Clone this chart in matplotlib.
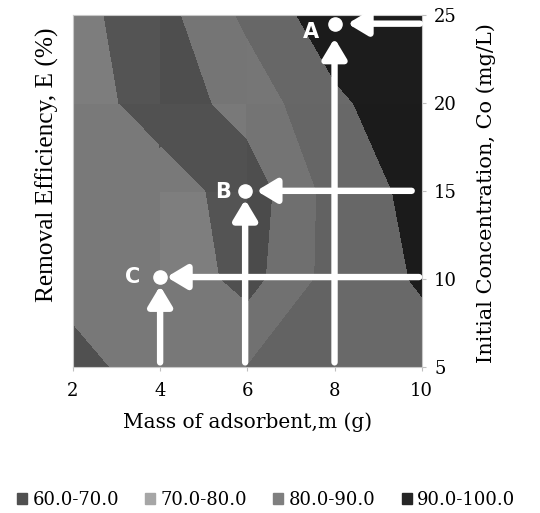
import numpy as np
import matplotlib
matplotlib.use("Agg")
import matplotlib.pyplot as plt
from matplotlib.patches import Patch

# grid of the surface (mass of adsorbent x initial concentration)
mass = [2, 4, 6, 8, 10]
conc = [5, 10, 15, 20, 25]
# removal efficiency E (%) at each node, rows = conc, cols = mass
eff = np.array([
    [64, 78, 80, 82, 86],
    [76, 78, 66, 84, 91],
    [78, 76, 64, 84, 93],
    [76, 64, 74, 88, 97],
    [72, 66, 82, 96, 99],
])
levels = [60, 70, 80, 90, 100]
band_labels = ["60.0-70.0", "70.0-80.0", "80.0-90.0", "90.0-100.0"]
band_colors = ["#505050", "#a6a6a6", "#7f7f7f", "#262626"]
# how the bands look on the lit surface
surf_colors = ["#515151", "#797979", "#6a6a6a", "#1c1c1c"]

# optimum points marked on the chart
pt_names = ["A", "B", "C"]
pt_mass = [8.0, 5.95, 4.0]
pt_conc = [24.5, 15.0, 10.1]

fig = plt.figure(figsize=(5.4, 5.13), dpi=100)
ax = fig.add_axes([0.135, 0.285, 0.646, 0.686])

X, Y = np.meshgrid(mass, conc)
base = np.array([matplotlib.colors.to_rgb(c) for c in surf_colors])

# draw cell by cell, each facet gets its own light like the excel surface
for j in range(len(conc) - 1):
    for i in range(len(mass) - 1):
        z = eff[j:j+2, i:i+2]
        gx = (z[:, 1].sum() - z[:, 0].sum()) / 2.0
        gy = (z[1, :].sum() - z[0, :].sum()) / 2.0
        f = np.clip(1.0 + 0.004 * (gy - gx), 0.88, 1.1)
        cols = [tuple(np.clip(c * f, 0, 1)) for c in base]
        cs = ax.contourf(X[j:j+2, i:i+2], Y[j:j+2, i:i+2], z,
                         levels=levels, colors=cols)
        cs.set_edgecolor("face")
        cs.set_linewidth(0.6)

ax.set_xlim(2, 10)
ax.set_ylim(5, 25)

# arrows towards the points
ap = dict(arrowstyle="-|>,head_length=0.75,head_width=0.45", color="white",
          lw=4.6, mutation_scale=16, shrinkA=0, shrinkB=0)
h_tail = [9.96, 9.77, 9.94]
h_tip = [8.3, 6.21, 4.15]
v_tip = [23.67, 14.5, 9.6]
for k in range(3):
    ax.annotate("", xy=(h_tip[k], pt_conc[k]), xytext=(h_tail[k], pt_conc[k]),
                arrowprops=ap)
    ax.annotate("", xy=(pt_mass[k], v_tip[k]), xytext=(pt_mass[k], 5.25),
                arrowprops=ap)
ax.plot(pt_mass, pt_conc, "o", color="white", ms=9.5, zorder=5)
lab_x = [7.47, 5.45, 3.38]
lab_y = [24.05, 14.96, 10.13]
for k in range(3):
    ax.text(lab_x[k], lab_y[k], pt_names[k], color="white", fontsize=15,
            fontweight="bold", ha="center", va="center", family="DejaVu Sans")

# axes styling
for s in ax.spines.values():
    s.set_color("#c8c8c8")
    s.set_linewidth(0.8)
ax.set_xticks(mass)
ax.set_xticklabels([str(m) for m in mass], family="DejaVu Serif", fontsize=13)
ax.tick_params(axis="x", length=3, color="#bfbfbf", pad=8)
ax.yaxis.tick_right()
ax.set_yticks(conc)
ax.set_yticklabels([str(c) for c in conc], family="DejaVu Serif", fontsize=13)
ax.tick_params(axis="y", length=3, color="#bfbfbf", pad=6)

ax.set_xlabel("Mass of adsorbent,m (g)", family="DejaVu Serif", fontsize=14.5,
              labelpad=9)
fig.text(486 / 540, 1 - 193 / 513, "Initial Concentration, Co (mg/L)",
         rotation=90, ha="center", va="center", family="DejaVu Serif",
         fontsize=15)
fig.text(47 / 540, 1 - 165 / 513, "Removal Efficiency, E (%)", rotation=90,
         ha="center", va="center", family="Liberation Serif", fontsize=18.3)

handles = [Patch(color=c) for c in band_colors]
fig.legend(handles, band_labels, loc="center", bbox_to_anchor=(0.493, 1 - 500 / 513),
           ncol=4, frameon=False, handlelength=0.55, handleheight=0.55,
           handletextpad=0.3, columnspacing=1.45, borderaxespad=0,
           prop={"family": "DejaVu Serif", "size": 13})

fig.savefig("out.png", dpi=100)
